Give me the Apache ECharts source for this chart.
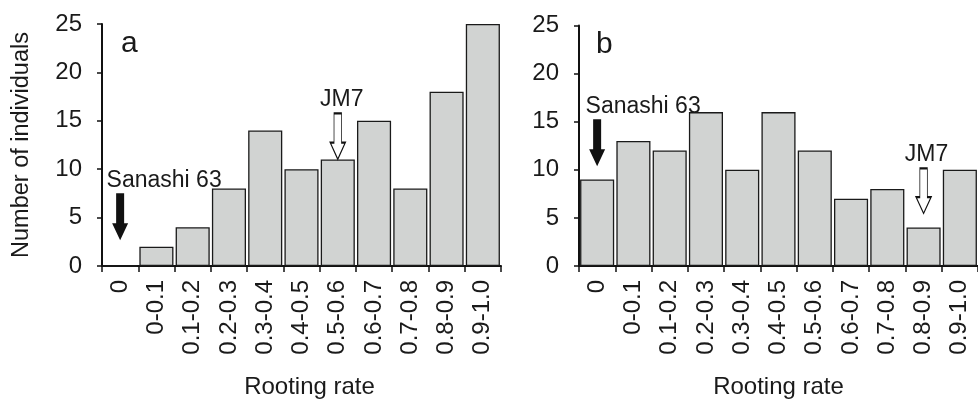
<!DOCTYPE html>
<html><head><meta charset="utf-8">
<script src="https://cdn.jsdelivr.net/npm/echarts@6/dist/echarts.min.js"></script>
<style>html,body{margin:0;padding:0;background:#fff}#c{width:978px;height:404px}</style>
</head><body><div id="c"></div>
<script>
var categories = ['0','0-0.1','0.1-0.2','0.2-0.3','0.3-0.4','0.4-0.5','0.5-0.6','0.6-0.7','0.7-0.8','0.8-0.9','0.9-1.0'];
var seriesA = [0,2,4,8,14,10,11,15,8,18,25];
var seriesB = [9,13,12,16,10,16,12,7,8,4,10];
var yTicks = [0,5,10,15,20,25];

var FONT = 'Liberation Sans, Arial, sans-serif';
var TXT = '#1a1a1a';
var ARROW = 'path://M4,0L12,0L12,30L16,30L8,47L0,30L4,30Z';

function arrowMark(cat, val, text, filled, size, offX) {
  return {
    coord: [cat, val],
    symbol: ARROW,
    symbolSize: size,
    itemStyle: filled ? {color: '#111', borderColor: '#111', borderWidth: 0}
                      : {color: '#fff', borderColor: '#111', borderWidth: 1.3},
    label: {show: true, formatter: text, position: 'top', distance: 1, offset: [offX, 0],
            color: TXT, fontFamily: FONT, fontSize: 23}
  };
}

function xAxis(idx, pad) {
  return {
    type: 'category', gridIndex: idx, data: categories,
    name: 'Rooting rate', nameLocation: 'middle', nameGap: 109,
    nameTextStyle: {color: TXT, fontFamily: FONT, fontSize: 24, padding: pad},
    axisLine: {lineStyle: {color: '#111', width: 2}},
    axisTick: {show: true, length: 6, lineStyle: {color: '#111', width: 1.5}},
    axisLabel: {rotate: 90, margin: 14, color: TXT, fontFamily: FONT, fontSize: 24, interval: 0},
    splitLine: {show: false}
  };
}
function yAxis(idx, withName) {
  var o = {
    type: 'value', gridIndex: idx, min: yTicks[0], max: yTicks[yTicks.length - 1], interval: yTicks[1] - yTicks[0],
    axisLine: {show: true, lineStyle: {color: '#111', width: 2}},
    axisTick: {show: true, length: 5, lineStyle: {color: '#111', width: 1.5}},
    axisLabel: {margin: 20, color: TXT, fontFamily: FONT, fontSize: 24},
    splitLine: {show: false}
  };
  if (withName) {
    o.name = 'Number of individuals';
    o.nameLocation = 'middle';
    o.nameGap = 68;
    o.nameTextStyle = {color: TXT, fontFamily: FONT, fontSize: 23.5};
  }
  return o;
}
var barStyle = {color: '#d1d3d2', borderColor: '#1a1a1a', borderWidth: 1.3};

var chart = echarts.init(document.getElementById('c'), null, {renderer: 'canvas'});
chart.setOption({
  animation: false,
  backgroundColor: '#fff',
  title: [
    {text: 'a', left: 116, top: 24, textStyle: {fontFamily: FONT, fontSize: 30, fontWeight: 'normal', color: TXT}},
    {text: 'b', left: 591, top: 25, textStyle: {fontFamily: FONT, fontSize: 30, fontWeight: 'normal', color: TXT}}
  ],
  grid: [
    {left: 102, right: 477, top: 24, bottom: 133},
    {left: 579, right: -4, top: 25.5, bottom: 132}
  ],
  xAxis: [xAxis(0, [0, 0, 0, 16]), xAxis(1, 0)],
  yAxis: [yAxis(0, true), yAxis(1, false)],
  series: [
    {type: 'bar', xAxisIndex: 0, yAxisIndex: 0, data: seriesA, barCategoryGap: '6%', itemStyle: barStyle,
     markPoint: {silent: true, data: [
       arrowMark('0', 5.1, 'Sanashi 63', true, [16, 47], 44),
       arrowMark('0.5-0.6', 13.4, 'JM7', false, [15, 46], 4)
     ]}},
    {type: 'bar', xAxisIndex: 1, yAxisIndex: 1, data: seriesB, barCategoryGap: '6%', itemStyle: barStyle,
     markPoint: {silent: true, data: [
       arrowMark('0', 12.8, 'Sanashi 63', true, [16, 47], 46),
       arrowMark('0.8-0.9', 7.8, 'JM7', false, [15, 45], 3)
     ]}}
  ]
});
</script></body></html>
